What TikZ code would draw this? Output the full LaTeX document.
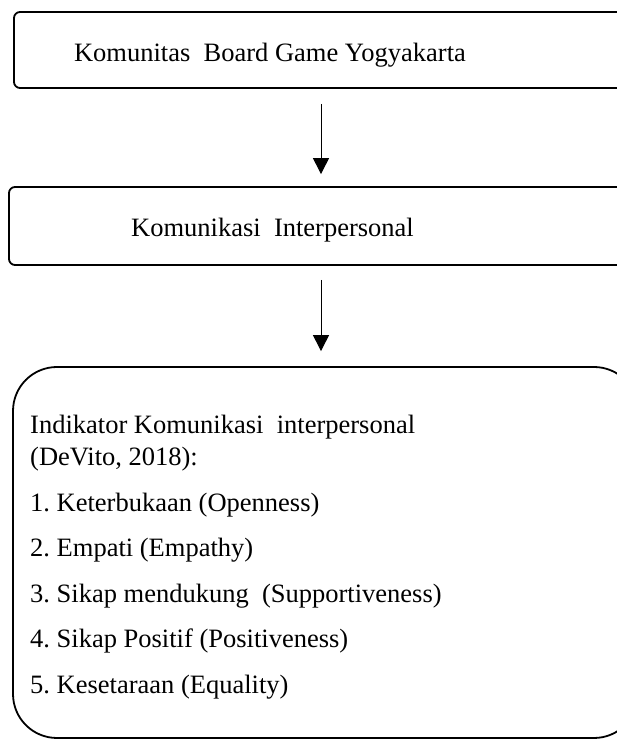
\documentclass[tikz,border=0pt]{standalone}
\usepackage{fontspec}
\setmainfont{Liberation Serif}
\usetikzlibrary{arrows.meta}
\frenchspacing

\begin{document}
\begin{tikzpicture}[%
x=1pt, y=1pt,
box/.style={draw=black, line width=1.8pt, rounded corners=6pt, inner sep=0pt},
bigbox/.style={draw=black, line width=1.8pt, rounded corners=44pt, inner sep=0pt},
lbl/.style={inner sep=0pt, font=\fontsize{26.5}{32}\selectfont},
arr/.style={line width=1pt, -{Triangle[width=16pt,length=16pt]}},
]
\useasboundingbox (0,0) rectangle (617,740);
\clip (0,0) rectangle (617,740);
%% boxes;
\node [box, minimum width=614pt, minimum height=76pt] (kbg) at (321,690) {};
\node [box, minimum width=624pt, minimum height=78pt] (ki) at (321,514) {};
\node [bigbox, minimum width=625pt, minimum height=371pt] (ind) at (325.5,187.5) {};
%% labels;
\node [lbl, anchor=base] (kbgtext) at (270,678) {Komunitas\ \ Board Game Yogyakarta};
\node [lbl, anchor=base] (kitext) at (272.5,503) {Komunikasi\ \ Interpersonal};
\node [lbl, anchor=north west, align=left] (indtext) at (30,325) {Indikator Komunikasi\ \ interpersonal\\
(DeVito, 2018):\\[13.5pt]
1. Keterbukaan (Openness)\\[13.5pt]
2. Empati (Empathy)\\[13.5pt]
3. Sikap mendukung\ \ (Supportiveness)\\[13.5pt]
4. Sikap Positif (Positiveness)\\[13.5pt]
5. Kesetaraan (Equality)};
%% arrows;
\draw [arr, shorten <=15pt, shorten >=12pt] (kbg.south) -- (ki.north);
\draw [arr, shorten <=14pt, shorten >=15pt] (ki.south) -- (ki.south |- ind.north);
\end{tikzpicture}
\end{document}
